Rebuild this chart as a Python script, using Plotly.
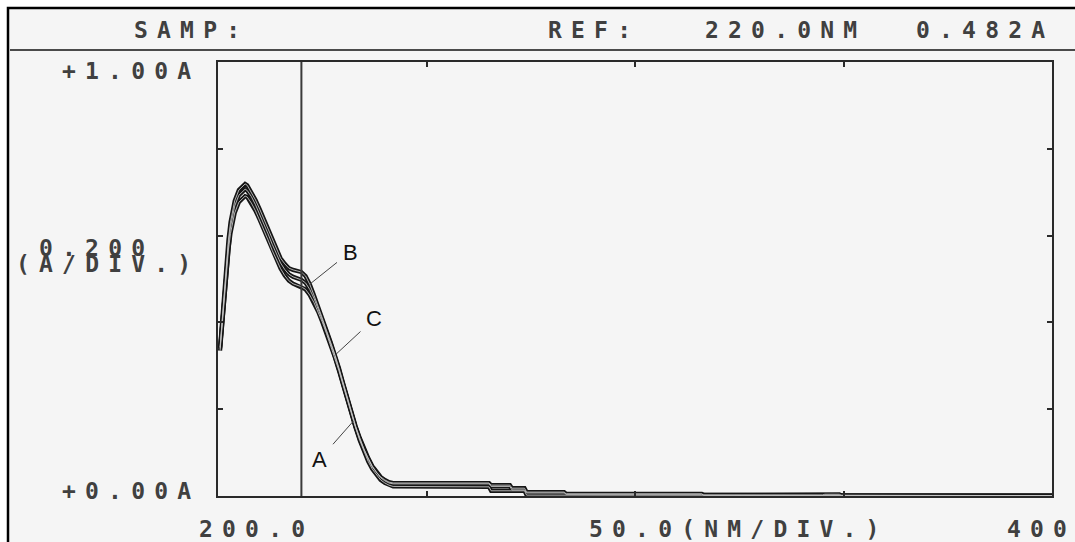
import numpy as np
import plotly.graph_objects as go

# ---------------- data ----------------
wavelength_nm = [200.5, 201.0, 201.5, 202.0, 202.5, 203.0, 203.5, 204.0,
                 205.0, 206.0, 206.5, 207.0,
                 208.0, 209.0, 210.0, 211.0, 212.0, 213.0, 214.0, 215.0, 216.0, 217.0,
                 218.0, 219.0, 220.0, 221.0, 222.0, 223.0, 224.0, 225.0, 226.0, 227.0,
                 228.0, 229.0, 230.0, 231.0, 232.0, 233.0, 234.0, 235.0, 236.0, 237.0,
                 238.0, 239.0, 240.0, 241.0, 242.0,
                 265.0, 265.5, 270.0, 270.5, 273.5, 274.0, 283.0, 283.5, 316.0, 316.5,
                 345.0, 345.5, 349.0, 349.5, 400.0]

abs_A = [0.335, 0.395, 0.460, 0.520, 0.567, 0.605, 0.632, 0.652,
         0.677, 0.688, 0.691, 0.689,
         0.675, 0.657, 0.636, 0.613, 0.590, 0.566, 0.543, 0.524, 0.508, 0.496,
         0.489, 0.485, 0.482, 0.476, 0.463, 0.446, 0.425, 0.401, 0.375, 0.348,
         0.320, 0.289, 0.255, 0.221, 0.189, 0.157, 0.128, 0.102, 0.080, 0.062,
         0.048, 0.037, 0.030, 0.025, 0.022,
         0.021, 0.012, 0.012, 0.012, 0.012, 0.002, 0.002, 0.002, 0.002, 0.001,
         0.001, 0.001, 0.001, 0.001, 0.001]

abs_B = [0.343, 0.406, 0.475, 0.539, 0.590, 0.631, 0.659, 0.680,
         0.705, 0.716, 0.719, 0.716,
         0.700, 0.682, 0.661, 0.638, 0.615, 0.590, 0.567, 0.548, 0.535, 0.525,
         0.521, 0.518, 0.516, 0.507, 0.488, 0.463, 0.438, 0.410, 0.382, 0.355,
         0.327, 0.295, 0.260, 0.226, 0.194, 0.161, 0.134, 0.108, 0.088, 0.069,
         0.055, 0.044, 0.037, 0.032, 0.030,
         0.030, 0.025, 0.025, 0.018, 0.018, 0.009, 0.009, 0.005, 0.005, 0.002,
         0.002, 0.004, 0.004, 0.001, 0.001]

abs_C = [0.340, 0.400, 0.468, 0.530, 0.580, 0.620, 0.647, 0.668,
         0.693, 0.704, 0.707, 0.704,
         0.690, 0.671, 0.650, 0.627, 0.604, 0.580, 0.557, 0.537, 0.522, 0.511,
         0.505, 0.501, 0.498, 0.491, 0.476, 0.456, 0.432, 0.406, 0.379, 0.352,
         0.324, 0.292, 0.258, 0.224, 0.192, 0.159, 0.131, 0.106, 0.085, 0.067,
         0.053, 0.042, 0.035, 0.030, 0.028,
         0.028, 0.022, 0.022, 0.014, 0.014, 0.007, 0.007, 0.004, 0.004, 0.002,
         0.002, 0.002, 0.002, 0.001, 0.001]

curve_names = ["A", "B", "C"]
curve_values = {"A": abs_A, "B": abs_B, "C": abs_C}
label_point_nm = {"A": 232.5, "B": 222.0, "C": 228.0}

ref_nm = 220.0
ref_abs = 0.482
x_range = [200.0, 400.0]
y_range = [0.0, 1.0]
x_ticks = [250, 300, 350]
y_ticks = [0.2, 0.4, 0.6, 0.8]

header_texts = ["SAMP:", "REF:", "220.0NM", "0.482A"]
y_top_label = "+1.00A"
y_bot_label = "+0.00A"
y_scale_label = ["0.200", "(A/DIV.)"]
x_labels = ["200.0", "50.0(NM/DIV.)", "400"]

# ---------------- layout geometry (pixels) ----------------
W, H = 1075, 542
L, R, T, B = 218, 23, 62, 46
PW, PH = W - L - R, H - T - B


def px(xp):
    return (xp - L) / PW


def py(yp):
    return (H - B - yp) / PH


MONO = dict(family="DejaVu Sans Mono", size=23, color="#404040", weight="bold")
INK = "#161616"

fig = go.Figure()

# curves: dark outline, then light cores
for name in curve_names:
    fig.add_trace(go.Scatter(x=wavelength_nm, y=curve_values[name], mode="lines",
                             line=dict(color=INK, width=4.2), hoverinfo="skip",
                             showlegend=False))
for name in curve_names:
    fig.add_trace(go.Scatter(x=wavelength_nm, y=curve_values[name], mode="lines",
                             line=dict(color="#c4c4c4", width=0.9), hoverinfo="skip",
                             showlegend=False))

shapes = [
    # outer panel with border
    dict(type="rect", xref="paper", yref="paper", x0=px(8), x1=px(1090), y0=py(560), y1=py(8),
         line=dict(color="#000000", width=2.5), fillcolor="#f5f5f5", layer="below"),
    # header rule
    dict(type="line", xref="paper", yref="paper", x0=px(10), x1=px(1090), y0=py(50), y1=py(50),
         line=dict(color="#4a4a4a", width=2)),
    # reference wavelength cursor
    dict(type="line", xref="x", yref="paper", x0=ref_nm, x1=ref_nm, y0=0, y1=1,
         line=dict(color="#3a3a3a", width=2)),
]

annotations = []


def mono(text, left_px, cy_px):
    annotations.append(dict(text=text, xref="paper", yref="paper", x=px(left_px), y=py(cy_px),
                            xanchor="left", yanchor="middle", align="left", showarrow=False,
                            font=MONO, borderpad=0))


mono(header_texts[0], 133, 30)
mono(header_texts[1], 547, 30)
mono(header_texts[2], 704, 30)
mono(header_texts[3], 915, 30)
mono(y_top_label, 61, 71)
mono(y_bot_label, 61, 491)
mono(y_scale_label[0], 38, 248)
mono(y_scale_label[1], 15, 264)
mono(x_labels[0], 198, 529)
mono(x_labels[1], 588, 529)
mono(x_labels[2], 1006, 529)

# curve labels with leader lines
label_pos = {"A": (320, 459), "B": (350, 252), "C": (374, 319)}
for name in curve_names:
    nm = label_point_nm[name]
    val = float(np.interp(nm, wavelength_nm, curve_values[name]))
    tip_x = L + (nm - x_range[0]) / (x_range[1] - x_range[0]) * PW
    tip_y = (H - B) - (val - y_range[0]) / (y_range[1] - y_range[0]) * PH
    lx, ly = label_pos[name]
    annotations.append(dict(text=name, x=nm, y=val, xref="x", yref="y",
                            ax=lx - tip_x, ay=ly - tip_y, showarrow=True, arrowhead=0,
                            arrowwidth=1, arrowcolor="#444444", standoff=0, borderpad=5,
                            font=dict(family="Liberation Sans", size=22, color="#111111")))

axis_common = dict(showgrid=False, zeroline=False, showline=True, linecolor="#2a2a2a",
                   linewidth=2, mirror="ticks", ticks="inside", ticklen=5, tickwidth=2,
                   tickcolor="#2a2a2a", showticklabels=False, fixedrange=True)

fig.update_layout(
    width=W, height=H,
    margin=dict(l=L, r=R, t=T, b=B, pad=0),
    paper_bgcolor="#ffffff",
    plot_bgcolor="rgba(0,0,0,0)",
    xaxis=dict(range=x_range, tickvals=x_ticks, **axis_common),
    yaxis=dict(range=y_range, tickvals=y_ticks, **axis_common),
    shapes=shapes,
    annotations=annotations,
    showlegend=False,
)

post_js = """
document.body.style.margin = '0';
document.body.style.padding = '0';
document.body.style.overflow = 'hidden';
var gd = document.getElementById('{plot_id}');
function spaceOut(){
  gd.querySelectorAll('text.annotation-text').forEach(function(t){
    var ff = t.style.fontFamily || t.getAttribute('style') || '';
    if (ff.indexOf('Mono') >= 0) { t.style.letterSpacing = '9.2px'; }
  });
}
spaceOut();
if (gd.on) { gd.on('plotly_afterplot', spaceOut); }
"""

fig.write_html("out.html", post_script=post_js, config={"displayModeBar": False})
